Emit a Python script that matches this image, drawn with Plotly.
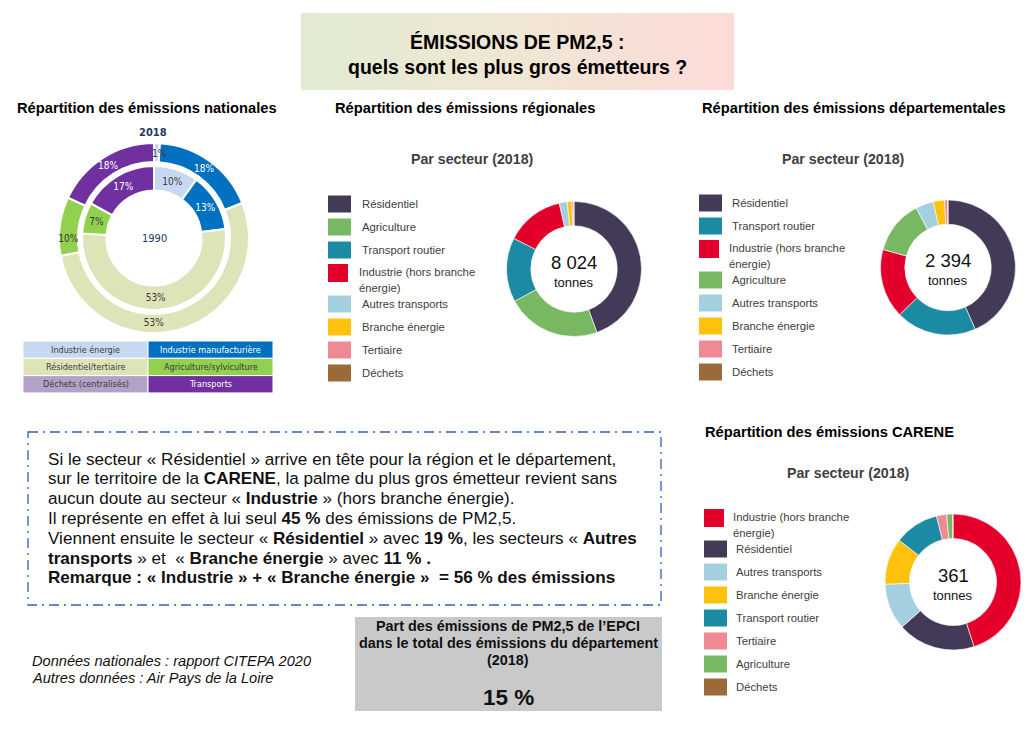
import math
import plotly.graph_objects as go

W, H = 1033, 731

# ---------------- DATA ----------------
# National (CITEPA) – 2018 outer ring, 1990 inner ring (%)
nat_labels = ["Industrie énergie", "Industrie manufacturière", "Résidentiel/tertiaire",
              "Agriculture/sylviculture", "Déchets (centralisés)", "Transports"]
nat_2018 = [1, 18, 53, 10, 0, 18]
nat_1990 = [10, 13, 53, 7, 0, 17]

# Regional (8 024 t), departmental (2 394 t) and CARENE (361 t) – share (%) by sector
reg_labels = ["Résidentiel", "Agriculture", "Transport routier", "Industrie (hors branche énergie)",
              "Autres transports", "Branche énergie", "Tertiaire", "Déchets"]
reg_values = [44.5, 22.6, 15.4, 14.0, 1.9, 1.1, 0.4, 0.1]
reg_total = "8 024"

dep_labels = ["Résidentiel", "Transport routier", "Industrie (hors branche énergie)", "Agriculture",
              "Autres transports", "Branche énergie", "Tertiaire", "Déchets"]
dep_values = [43.4, 19.3, 16.6, 12.9, 4.3, 2.7, 0.7, 0.1]
dep_total = "2 394"

car_labels = ["Industrie (hors branche énergie)", "Résidentiel", "Autres transports", "Branche énergie",
              "Transport routier", "Tertiaire", "Agriculture", "Déchets"]
car_values = [45.0, 18.5, 11.0, 11.0, 10.6, 2.4, 1.4, 0.1]
car_total = "361"

epci_share = "15 %"

# ---------------- STYLES ----------------
nat_colors = ["#c6d9f1", "#0070c0", "#dfe3b8", "#92d050", "#b3a2c7", "#7030a0"]
nat_txt = ["#3a3a3a", "#ffffff", "#3a3a3a", "#3a3a3a", "#3a3a3a", "#ffffff"]

sector_colors = {
    "Résidentiel": "#433a57",
    "Agriculture": "#79b863",
    "Transport routier": "#1b8aa3",
    "Industrie (hors branche énergie)": "#e3002b",
    "Autres transports": "#a4cfde",
    "Branche énergie": "#fec20e",
    "Tertiaire": "#ee8a93",
    "Déchets": "#9b6a39",
}

FONT = "Arial, Liberation Sans, sans-serif"
NARROW = "Liberation Sans Narrow, DejaVu Sans Condensed, Arial Narrow, Liberation Sans, sans-serif"

NAT_C = (154, 238)


def dom(cx, cy, r):
    return dict(x=[(cx - r) / W, (cx + r) / W], y=[1 - (cy + r) / H, 1 - (cy - r) / H])


shapes = []
ann = []


def text(x, y, t, size=12, color="#000000", bold=False, xanchor="center", family=FONT, italic=False, yanchor="middle"):
    if bold:
        t = "<b>" + t + "</b>"
    if italic:
        t = "<i>" + t + "</i>"
    ann.append(dict(x=x, y=y, xref="x", yref="y", text=t, showarrow=False, xanchor=xanchor,
                    yanchor=yanchor, font=dict(family=family, size=size, color=color)))


fig = go.Figure()

# Header gradient box
fig.add_trace(go.Scatter(
    x=[301, 734, 734, 301, 301], y=[13, 13, 90, 90, 13], mode="lines", fill="toself",
    line=dict(width=0), fillgradient=dict(type="horizontal",
                                          colorscale=[[0, "#e1ebd2"], [0.5, "#f0e6d4"], [1, "#fddbd8"]]),
    hoverinfo="skip", showlegend=False))

# National donuts (tiny slices get their label placed from the slice's own angle)
for vals, hole, r in [(nat_2018, 0.80, 95), (nat_1990, 0.66, 72)]:
    total = sum(vals)
    templates = []
    cum = 0
    for v, tc in zip(vals, nat_txt):
        if v <= 0:
            templates.append("")
        elif v / total < 0.03:
            templates.append("")
            ang = math.radians(360 * (cum + v / 2) / total)
            rm = r * (1 + hole) / 2
            text(NAT_C[0] + rm * math.sin(ang) + 3, NAT_C[1] - rm * math.cos(ang) + 1, f"{v}%",
                 size=10, color=tc, family=NARROW)
        else:
            templates.append("%{value}%")
        cum += v
    fig.add_trace(go.Pie(
        labels=nat_labels, values=vals, sort=False, direction="clockwise", rotation=0,
        hole=hole, domain=dom(NAT_C[0], NAT_C[1], r),
        marker=dict(colors=nat_colors, line=dict(color="white", width=2)),
        texttemplate=templates, textposition="inside", insidetextorientation="horizontal",
        textfont=dict(family=NARROW, size=10, color=nat_txt), showlegend=False, hoverinfo="label+value"))

# Sector donuts
for labels, values, (cx, cy, r) in [
    (reg_labels, reg_values, (574, 269, 67.5)),
    (dep_labels, dep_values, (948, 267.5, 67.5)),
    (car_labels, car_values, (953, 582, 68)),
]:
    fig.add_trace(go.Pie(
        labels=labels, values=values, sort=False, direction="clockwise", rotation=0,
        hole=0.64, domain=dom(cx, cy, r),
        marker=dict(colors=[sector_colors[l] for l in labels], line=dict(color="white", width=0.6)),
        textinfo="none", showlegend=False, hoverinfo="label+percent"))

# Header
text(517, 42, "ÉMISSIONS DE PM2,5 :", size=19.5, bold=True)
text(517, 67, "quels sont les plus gros émetteurs ?", size=19.5, bold=True)

# Section titles
text(147, 108, "Répartition des émissions nationales", size=14.7, bold=True)
text(465, 108, "Répartition des émissions régionales", size=14.7, bold=True)
text(854, 108, "Répartition des émissions départementales", size=14.7, bold=True)
text(472, 159, "Par secteur (2018)", size=14.2, bold=True, color="#404040")
text(843, 159, "Par secteur (2018)", size=14.2, bold=True, color="#404040")
text(829, 432, "Répartition des émissions CARENE", size=14.7, bold=True)
text(848, 473, "Par secteur (2018)", size=14.2, bold=True, color="#404040")

# National ring labels
text(153, 132, "2018", size=11, bold=True, color="#1f3864", family=NARROW)
text(154, 238, "1990", size=11, color="#1f3864", family=NARROW)

# National legend table (2 columns x 3 rows)
tx0, tcol, tx1 = 23, 148, 273
ty0, trow = 341, 17.3
for i, (lab, col, tc) in enumerate(zip(nat_labels, nat_colors, nat_txt)):
    row, c = divmod(i, 2)
    x0 = tx0 if c == 0 else tcol
    x1 = tcol if c == 0 else tx1
    y0 = ty0 + row * trow
    shapes.append(dict(type="rect", xref="x", yref="y", x0=x0, x1=x1, y0=y0, y1=y0 + trow,
                       fillcolor=col, line=dict(color="white", width=1), layer="above"))
    text((x0 + x1) / 2, y0 + trow / 2, lab, size=9, color=tc, family=NARROW)


# Sector legends
def legend(labels, sx, tx, y_first):
    y = y_first
    for lab in labels:
        if lab.startswith("Industrie"):
            shapes.append(dict(type="rect", xref="x", yref="y", x0=sx, x1=sx + 20, y0=y - 9, y1=y + 9,
                               fillcolor=sector_colors[lab], line=dict(width=0), layer="above"))
            text(tx - 3, y - 1, "Industrie (hors branche", size=11.3, color="#404040", xanchor="left")
            text(tx - 3, y + 15, "énergie)", size=11.3, color="#404040", xanchor="left")
            y += 31
        else:
            shapes.append(dict(type="rect", xref="x", yref="y", x0=sx, x1=sx + 23, y0=y - 8.5, y1=y + 8.5,
                               fillcolor=sector_colors[lab], line=dict(width=0), layer="above"))
            text(tx, y, lab, size=11.3, color="#404040", xanchor="left")
            y += 23


legend(reg_labels, 328, 360, 204)
legend(dep_labels, 699, 730, 203)
legend(car_labels, 704, 734, 518)

# Donut centre texts
for (cx, cy), tot in [((574, 269), reg_total), ((948, 267.5), dep_total), ((953, 582), car_total)]:
    text(cx, cy - 7, tot, size=18.5, color="#111111")
    text(cx, cy + 13, "tonnes", size=13, color="#111111")

# Commentary box
shapes.append(dict(type="rect", xref="x", yref="y", x0=28, x1=661, y0=432, y1=605,
                   line=dict(color="#2f62b8", width=1.3, dash="10px,5px,2px,5px"),
                   fillcolor="rgba(0,0,0,0)", layer="above"))
lines = [
    "Si le secteur « Résidentiel » arrive en tête pour la région et le département,",
    "sur le territoire de la <b>CARENE</b>, la palme du plus gros émetteur revient sans",
    "aucun doute au secteur « <b>Industrie</b> » (hors branche énergie).",
    "Il représente en effet à lui seul <b>45 %</b> des émissions de PM2,5.",
    "Viennent ensuite le secteur « <b>Résidentiel</b> » avec <b>19 %</b>, les secteurs « <b>Autres</b>",
    "<b>transports</b> » et  « <b>Branche énergie</b> » avec <b>11 % .</b>",
    "<b>Remarque : « Industrie » + « Branche énergie »  = 56 % des émissions</b>",
]
for k, ln in enumerate(lines):
    text(46, 459 + k * 19.8, ln, size=17.1, color="#111111", xanchor="left")

# Grey EPCI box
shapes.append(dict(type="rect", xref="x", yref="y", x0=355, x1=662, y0=617, y1=711,
                   fillcolor="#c9c9c9", line=dict(width=0), layer="below"))
text(508, 626, "Part des émissions de PM2,5 de l’EPCI", size=14.4, bold=True, color="#111111")
text(508, 643, "dans le total des émissions du département", size=14.4, bold=True, color="#111111")
text(508, 660, "(2018)", size=14.4, bold=True, color="#111111")
text(508, 697, epci_share, size=22.5, bold=True, color="#111111")

# Sources
text(30, 661, "Données nationales : rapport CITEPA 2020", size=14.6, italic=True, color="#111111", xanchor="left")
text(30, 678, "Autres données : Air Pays de la Loire", size=14.6, italic=True, color="#111111", xanchor="left")

fig.update_layout(
    width=W, height=H, margin=dict(l=0, r=0, t=0, b=0),
    paper_bgcolor="white", plot_bgcolor="white",
    xaxis=dict(range=[0, W], visible=False, fixedrange=True, domain=[0, 1]),
    yaxis=dict(range=[H, 0], visible=False, fixedrange=True, domain=[0, 1]),
    shapes=shapes, annotations=ann, showlegend=False,
    uniformtext=dict(minsize=10, mode="show"),
)

fig.write_html("out.html", config={"displayModeBar": False},
               post_script="document.body.style.margin='0px';document.body.style.overflow='hidden';")
